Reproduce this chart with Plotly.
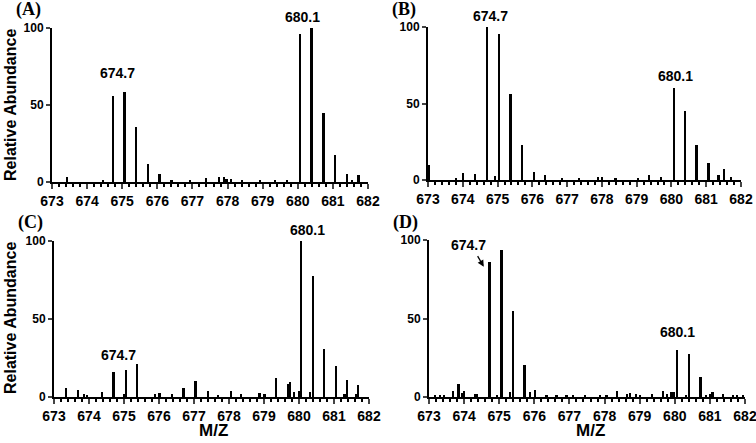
import plotly.graph_objects as go
from plotly.subplots import make_subplots

# ── Dados (m/z × abundância relativa) ──────────────────────────
mz_a = [673.44, 674.46, 674.74, 675.07, 675.40, 675.74, 676.07, 676.41, 676.93,
        677.40, 677.76, 677.91, 677.98, 678.10, 678.41, 678.93, 679.36, 679.69,
        680.07, 680.40, 680.74, 681.07, 681.40, 681.55, 681.74]
ab_a = [3.0, 1.5, 56, 58.5, 36, 11.5, 5.2, 1.5, 1.2,
        2.5, 3.0, 3.0, 2.0, 2.2, 1.0, 1.0, 1.0, 0.8,
        96, 100, 44.5, 17.5, 5.2, 1.2, 4.8]

mz_b = [673.02, 673.82, 674.01, 674.36, 674.70, 674.94, 675.05, 675.38, 675.72,
        676.05, 676.38, 676.86, 677.35, 677.89, 678.02, 678.40, 679.05, 679.36,
        679.70, 680.07, 680.40, 680.73, 681.07, 681.36, 681.52, 681.71]
ab_b = [9.5, 1.0, 4.5, 4.2, 100, 2.8, 95.5, 56.5, 23,
        5.0, 3.0, 1.2, 1.0, 2.0, 2.0, 1.0, 1.2, 3.0,
        2.0, 60, 45, 23, 11, 3.0, 7.5, 1.8]

mz_c = [673.35, 673.69, 673.86, 673.95, 674.38, 674.71, 675.00, 675.07, 675.38,
        675.90, 676.02, 676.38, 676.71, 677.05, 677.40, 677.69, 678.07, 678.35,
        678.88, 679.02, 679.35, 679.69, 679.76, 679.86, 680.00, 680.07, 680.33,
        680.40, 680.73, 681.07, 681.31, 681.37, 681.64, 681.70]
ab_c = [6.0, 4.5, 2.0, 1.5, 3.0, 16, 2.0, 17, 21,
        2.0, 2.5, 2.0, 6.0, 10, 4.0, 1.2, 4.0, 1.8,
        2.5, 2.0, 12, 8.5, 9.5, 3.0, 4.0, 100, 3.5,
        77.5, 31, 20, 2.0, 11, 2.0, 7.5]

mz_d = [673.17, 673.31, 673.43, 673.69, 673.85, 673.95, 674.00, 674.31, 674.38,
        674.73, 674.95, 675.07, 675.31, 675.40, 675.73, 675.88, 676.02, 676.35,
        676.64, 676.92, 677.11, 677.44, 677.87, 678.06, 678.37, 678.65, 678.73,
        678.90, 679.01, 679.35, 679.68, 679.79, 679.91, 679.98, 680.07, 680.32,
        680.41, 680.74, 680.89, 681.01, 681.08, 681.38, 681.67, 681.77, 681.95]
ab_d = [1.0, 1.5, 1.5, 4.0, 8.0, 2.8, 3.7, 2.2, 2.0,
        86, 1.5, 93.5, 3.0, 55, 20.5, 3.3, 4.5, 1.5,
        1.0, 1.5, 1.0, 1.0, 1.0, 1.0, 3.7, 2.0, 2.5,
        2.0, 1.5, 2.0, 3.7, 2.0, 3.3, 3.0, 30, 1.5,
        27.5, 12.7, 1.5, 2.0, 3.0, 2.0, 1.5, 1.5, 1.0]

painel = [("(A)", mz_a, ab_a), ("(B)", mz_b, ab_b),
          ("(C)", mz_c, ab_c), ("(D)", mz_d, ab_d)]

W, H = 756, 443
_ARIAL = "Arial, Liberation Sans, sans-serif"
_TIMES = "Times New Roman, Liberation Serif, serif"

# domínios em pixels (esq, dir, topo, base)
_DOM = [(52, 368, 28, 182), (428, 741, 27, 180),
        (54, 369, 241, 397), (429, 745, 240, 397)]

# rótulos dos picos: (texto, x px, y px)
_PICOS = [("674.7", 117, 73), ("680.1", 302, 17),
          ("674.7", 490, 16), ("680.1", 675, 76),
          ("674.7", 118, 355), ("680.1", 307, 230),
          ("674.7", 468, 245), ("680.1", 677, 332)]


def _px(x, y):
    """Pixel da imagem -> coordenadas paper."""
    return x / W, 1 - y / H


def _txt(fig, text, x, y, font, angle=0):
    px_, py_ = _px(x, y)
    fig.add_annotation(text=text, xref="paper", yref="paper", x=px_, y=py_,
                       xanchor="center", yanchor="middle", showarrow=False,
                       textangle=angle, font=font)


fig = make_subplots(rows=2, cols=2)
for i, (rot, mz, ab) in enumerate(painel):
    r, c = i // 2 + 1, i % 2 + 1
    fig.add_trace(go.Bar(
        x=mz, y=ab, width=0.05,
        marker=dict(color="black", line=dict(width=0)),
        showlegend=False,
    ), row=r, col=c)

    x0, x1, y0, y1 = _DOM[i]
    sfx = "" if i == 0 else str(i + 1)
    fig.layout["xaxis" + sfx].update(
        domain=[x0 / W, x1 / W], range=[673, 682], automargin=False,
        tickvals=list(range(673, 683)), ticks="outside", ticklen=5, tickwidth=2,
        ticklabeloverflow="allow",
        showline=True, linewidth=2, linecolor="black", showgrid=False, zeroline=False,
        tickfont=dict(family=_ARIAL, size=14, color="black", weight="bold"),
        minor=dict(dtick=0.2, ticks="outside", ticklen=3, tickwidth=1.5, tickcolor="black"),
    )
    fig.layout["yaxis" + sfx].update(
        domain=[1 - y1 / H, 1 - y0 / H], range=[0, 100], automargin=False,
        tickvals=[0, 50, 100], ticks="outside", ticklen=4, tickwidth=2,
        showline=True, linewidth=2, linecolor="black", showgrid=False, zeroline=False,
        tickfont=dict(family=_ARIAL, size=12, color="black", weight="bold"),
    )
    _txt(fig, rot, x0 - 24, y0 - 18,
         dict(family=_TIMES, size=18, color="black", weight="bold"))

for t, x, y in _PICOS:
    _txt(fig, t, x, y, dict(family=_ARIAL, size=14, color="black", weight="bold"))

# seta do painel D
fig.add_annotation(xref="x4", yref="y4", x=674.56, y=83, ax=-7, ay=-12, text="",
                   showarrow=True, arrowhead=2, arrowsize=1, arrowwidth=1.3,
                   arrowcolor="black")

# títulos dos eixos
for yc in (105, 318):
    _txt(fig, "Relative Abundance", 10, yc,
         dict(family=_ARIAL, size=16, color="black", weight="bold"), angle=-90)
for xc in (213, 590):
    _txt(fig, "M/Z", xc, 430, dict(family=_ARIAL, size=17, color="black", weight="bold"))

fig.update_layout(
    width=W, height=H, margin=dict(l=0, r=0, t=0, b=0, autoexpand=False),
    paper_bgcolor="white", plot_bgcolor="white", bargap=0,
)
fig.write_html("out.html", config={"displayModeBar": False},
               post_script="document.body.style.margin='0';")
